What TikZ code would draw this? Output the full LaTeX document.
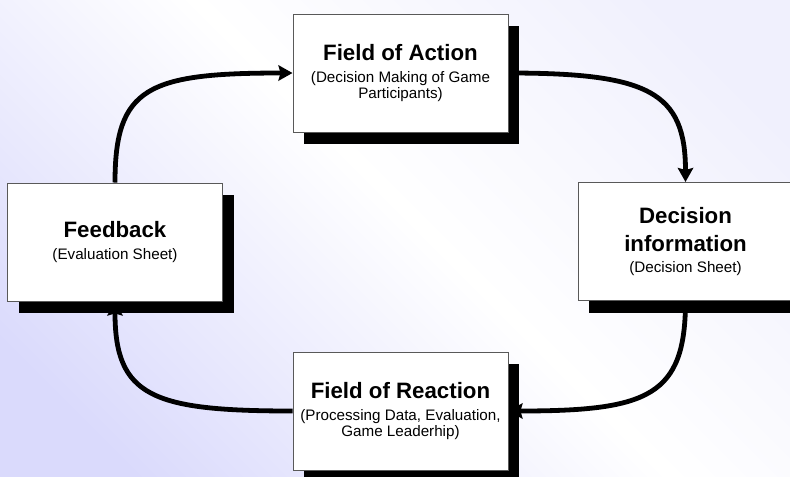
\documentclass[tikz,border=0pt]{standalone}
\usepackage{fontspec}
\setmainfont{Liberation Sans}
\usetikzlibrary{arrows.meta,shadows}

\pgfdeclarelayer{bg}
\pgfdeclarelayer{links}
\pgfsetlayers{bg,links,main}

\definecolor{lavender}{RGB}{218,218,252}
\definecolor{lavenderlight}{RGB}{240,240,253}
\pgfdeclarehorizontalshading{pagebg}{100bp}{color(0bp)=(lavender); color(22bp)=(lavender); color(52bp)=(white); color(78bp)=(lavenderlight); color(100bp)=(lavenderlight)}

\tikzset{
  stagebox/.style={draw=black!65, line width=0.75pt, fill=white, minimum width=161.25pt, minimum height=88.5pt, inner sep=0pt, align=center, font=\fontsize{11.4}{12}\selectfont, drop shadow={shadow xshift=8.25pt, shadow yshift=-9pt, fill=black, opacity=1}},
  flowarrow/.style={line width=3.6pt, -{Stealth[length=10.5pt,width=11.5pt,inset=1.5pt]}},
}
\newcommand{\stagetitle}[1]{{\fontsize{16.7}{19.5}\selectfont\bfseries #1}}

\begin{document}
\begin{tikzpicture}[x=0.75pt,y=0.75pt,yscale=-1,xscale=1]
\useasboundingbox (0,0) rectangle (790,476);
%Background
\begin{pgfonlayer}{bg}
\shade[shading=pagebg, shading angle=45] (0,0) rectangle (790,476);
\end{pgfonlayer}
\clip (0,0) rectangle (790,476);

%Shape: Rectangle [action]
\node [stagebox] (action) at (400.5,73) {\stagetitle{Field of Action}\\[4.5pt] (Decision Making of Game\\ Participants)};
%Shape: Rectangle [feedback]
\node [stagebox] (feedback) at (115,242) {\stagetitle{Feedback}\\[4.5pt] (Evaluation Sheet)};
%Shape: Rectangle [decision]
\node [stagebox] (decision) at (685.5,241.5) {\stagetitle{Decision}\\[7.5pt] \stagetitle{information}\\[3.75pt] (Decision Sheet)};
%Shape: Rectangle [reaction]
\node [stagebox] (reaction) at (400.5,411) {\stagetitle{Field of Reaction}\\[4.5pt] (Processing Data, Evaluation,\\ Game Leaderhip)};

%Curve Lines
\begin{pgfonlayer}{links}
\draw [flowarrow] (feedback.north) .. controls +(0,-95) and +(-145,0) .. (action.west);
\draw [flowarrow] (action.east) .. controls +(140,0) and +(0,-90) .. (decision.north);
\draw [flowarrow] (decision.south) .. controls +(0,95) and +(140,0) .. (reaction.east);
\draw [flowarrow] (reaction.west) .. controls +(-140,0) and +(0,95) .. (feedback.south);
\end{pgfonlayer}
\end{tikzpicture}
\end{document}
